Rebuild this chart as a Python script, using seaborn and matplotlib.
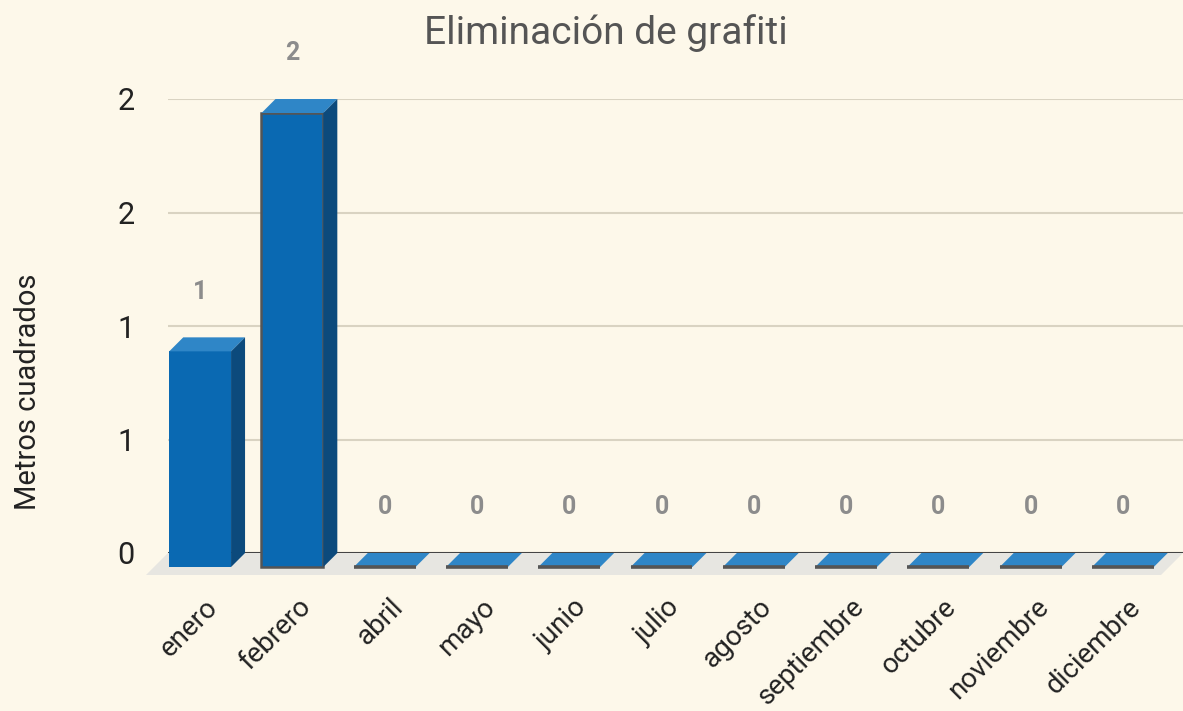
import matplotlib.pyplot as plt
from matplotlib.patches import Polygon
import seaborn as sns
import pandas as pd

# data
meses = ['enero', 'febrero', 'abril', 'mayo', 'junio', 'julio', 'agosto',
         'septiembre', 'octubre', 'noviembre', 'diciembre']
metros = [0.95, 2.0, 0, 0, 0, 0, 0, 0, 0, 0, 0]
etiquetas = ['1', '2', '0', '0', '0', '0', '0', '0', '0', '0', '0']
yticks = [0, 0.5, 1, 1.5, 2]
ytick_labels = ['0', '1', '1', '2', '2']

# colours
bg = '#fdf8ea'
front = '#0a69b2'
top_col = '#2f86c7'
side_col = '#0c4a7c'
floor_col = '#e7e6e1'
edge_col = '#555555'

sns.set_theme(style='white')
plt.rcParams['font.family'] = ['Roboto', 'DejaVu Sans']

fig = plt.figure(figsize=(11.83, 7.11), dpi=100, facecolor=bg)
ax = fig.add_axes([168 / 1183, (711 - 553) / 711, 1 - 168 / 1183, (553 - 99) / 711])
ax.set_facecolor(bg)

df = pd.DataFrame({'mes': meses, 'metros': metros})
sns.barplot(data=df, x='mes', y='metros', color=front, width=0.67,
            saturation=1, ax=ax, zorder=3)
ax.set_xlim(-0.5, len(meses) - 0.5)
ax.set_ylim(0, 2)

# depth of the fake 3D look, in pixels -> data units
inv = ax.transData.inverted()
x0, y0 = inv.transform((0, 0))
x1, y1 = inv.transform((14, 14))
ddx, ddy = x1 - x0, y1 - y0
x1, y1 = inv.transform((22, 22))
fdx, fdy = x1 - x0, y1 - y0

# floor
xl, xr = ax.get_xlim()
ax.add_patch(Polygon([(xl, 0), (xr, 0), (xr - fdx, -fdy), (xl - fdx, -fdy)],
                     closed=True, facecolor=floor_col, edgecolor='none',
                     clip_on=False, zorder=1))

# gridlines and baseline
for t in yticks[1:]:
    ax.axhline(t, color='#d9d3c2', lw=1.5, zorder=0)
ax.axhline(0, color='#444444', lw=1.5, zorder=2)

for i, p in enumerate(ax.patches[:len(meses)]):
    x, w, h = p.get_x(), p.get_width(), p.get_height()
    p.set_x(x - ddx)
    p.set_y(-ddy)
    p.set_clip_on(False)
    if i == 0:
        p.set_edgecolor('none')
    else:
        p.set_edgecolor(edge_col)
        p.set_linewidth(1.8 if h > 0 else 2.6)
    if h == 0:
        p.set_zorder(4)
    # top face
    ax.add_patch(Polygon([(x - ddx, h - ddy), (x + w - ddx, h - ddy), (x + w, h), (x, h)],
                         closed=True, facecolor=top_col, edgecolor='none',
                         clip_on=False, zorder=3))
    # side face
    if h > 0:
        ax.add_patch(Polygon([(x + w - ddx, -ddy), (x + w - ddx, h - ddy), (x + w, h), (x + w, 0)],
                             closed=True, facecolor=side_col, edgecolor='none',
                             clip_on=False, zorder=3))
    ax.annotate(etiquetas[i], (x + w / 2 - ddx, h), xytext=(0, 33),
                textcoords='offset points', ha='center', va='center',
                fontsize=18, fontweight='bold', color='#8c8c8c',
                annotation_clip=False)

ax.set_yticks(yticks)
ax.set_yticklabels(ytick_labels, fontsize=22, color='#222222')
ax.set_xticks(range(len(meses)))
ax.set_xticklabels(meses, rotation=45, ha='right', va='center',
                   rotation_mode='anchor', fontsize=20, color='#222222')
ax.tick_params(axis='y', length=0, pad=24)
ax.tick_params(axis='x', length=0, pad=36)
ax.set_xlabel('')
ax.set_ylabel('Metros cuadrados', fontsize=21, color='#222222')
ax.yaxis.set_label_coords(-0.124, 0.355)

for s in ['right', 'left', 'top', 'bottom']:
    ax.spines[s].set_visible(False)

fig.text(606 / 1183, 1 - 33 / 711, 'Eliminación de grafiti', ha='center',
         va='center', fontsize=28, color='#555555')

plt.savefig('out.png', dpi=100, facecolor=bg)
